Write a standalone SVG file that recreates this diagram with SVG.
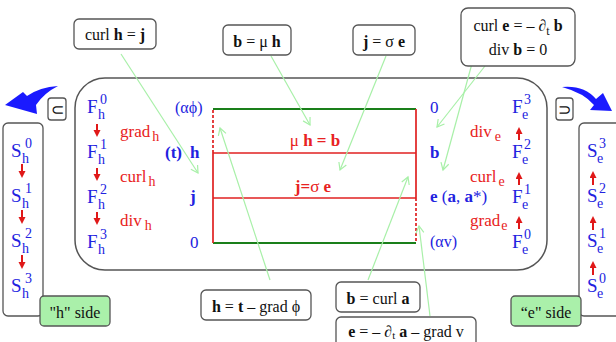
<svg xmlns="http://www.w3.org/2000/svg" width="616" height="342" viewBox="0 0 616 342">
<defs>
<style>
.box{fill:#fff;stroke:#555;stroke-width:1.3}
.gbox{fill:#aaf0aa;stroke:#555;stroke-width:1.3}
.t{font-family:"Liberation Serif","Times New Roman",serif;font-size:16px;fill:#111}
.b{font-weight:bold}
.bl{font-family:"Liberation Serif","Times New Roman",serif;fill:#2222e0}
.rd{font-family:"Liberation Serif","Times New Roman",serif;fill:#e82222}
.F{font-size:19px}
.s{font-size:14px}
.op{font-size:17px}
.conn line{stroke:#a8f0a8;stroke-width:1.2;marker-end:url(#ga)}
.rarr{stroke:#e01818;stroke-width:2;marker-end:url(#ra)}
</style>
<marker id="ga" markerWidth="10" markerHeight="10" refX="8" refY="5" orient="auto" markerUnits="userSpaceOnUse"><path d="M1,1 L8,5 L1,9" fill="none" stroke="#a8f0a8" stroke-width="1.2"/></marker>
<marker id="ra" markerWidth="8" markerHeight="8" refX="1" refY="3.5" orient="auto" markerUnits="userSpaceOnUse"><path d="M0,0 L7,3.5 L0,7 Z" fill="#e01818"/></marker>
</defs>

<!-- main rounded frame -->
<g id="frame">
<rect x="75" y="78" width="472" height="192" rx="30" ry="30" fill="#fff" stroke="#555" stroke-width="1.5"/>
</g>

<!-- table -->
<g id="table">
<line x1="213" y1="109" x2="416" y2="109" stroke="#1a7f1a" stroke-width="2"/>
<line x1="213" y1="243" x2="416" y2="243" stroke="#1a7f1a" stroke-width="2"/>
<line x1="213" y1="153" x2="416" y2="153" stroke="#e02020" stroke-width="1.7"/>
<line x1="213" y1="198" x2="416" y2="198" stroke="#e02020" stroke-width="1.7"/>
<line x1="213" y1="153" x2="213" y2="243" stroke="#e02020" stroke-width="1.7"/>
<line x1="213" y1="110" x2="213" y2="153" stroke="#e02020" stroke-width="1.7" stroke-dasharray="3,2"/>
<line x1="416" y1="109" x2="416" y2="198" stroke="#e02020" stroke-width="1.7"/>
<line x1="416" y1="198" x2="416" y2="242" stroke="#e02020" stroke-width="1.7" stroke-dasharray="3,2"/>
<text class="rd b" x="315" y="146" font-size="17" text-anchor="middle"><tspan font-weight="normal">μ</tspan> h = b</text>
<text class="rd b" x="313" y="192" font-size="17" text-anchor="middle">j=<tspan font-weight="normal">σ</tspan>  e</text>
</g>

<!-- left F column -->
<g id="Fh">
<text class="bl F" x="87" y="113">F</text><text class="bl s" x="98" y="119">h</text><text class="bl s" x="100" y="104">0</text>
<text class="bl F" x="87" y="158">F</text><text class="bl s" x="98" y="164">h</text><text class="bl s" x="100" y="149">1</text>
<text class="bl F" x="87" y="203">F</text><text class="bl s" x="98" y="209">h</text><text class="bl s" x="100" y="194">2</text>
<text class="bl F" x="87" y="248">F</text><text class="bl s" x="98" y="254">h</text><text class="bl s" x="100" y="239">3</text>
<line class="rarr" x1="97" y1="124" x2="97" y2="131"/>
<line class="rarr" x1="97" y1="168" x2="97" y2="175"/>
<line class="rarr" x1="97" y1="212" x2="97" y2="219"/>
<text class="rd op" x="120" y="137">grad<tspan class="s" dx="2" dy="4">h</tspan></text>
<text class="rd op" x="120" y="182">curl<tspan class="s" dx="2" dy="4">h</tspan></text>
<text class="rd op" x="120" y="226">div<tspan class="s" dx="3" dy="4">h</tspan></text>
</g>

<!-- left middle labels -->
<g id="hlabels">
<text class="bl" font-size="16" x="175" y="113">(αϕ)</text>
<text class="bl b" font-size="17" x="165" y="158">(t)</text>
<text class="bl b" font-size="17" x="190" y="158">h</text>
<text class="bl b" font-size="17" x="190" y="202">j</text>
<text class="bl" font-size="17" x="190" y="248">0</text>
</g>

<!-- right middle labels -->
<g id="elabels">
<text class="bl" font-size="17" x="430" y="113">0</text>
<text class="bl b" font-size="17" x="430" y="158">b</text>
<text class="bl" font-size="17" x="430" y="202"><tspan font-weight="bold">e</tspan>  (<tspan font-weight="bold">a</tspan>, <tspan font-weight="bold">a</tspan>*)</text>
<text class="bl" font-size="16" x="430" y="247">(αv)</text>
</g>

<!-- right F column -->
<g id="Fe">
<text class="bl F" x="512" y="113">F</text><text class="bl s" x="522" y="119">e</text><text class="bl s" x="524" y="104">3</text>
<text class="bl F" x="512" y="158">F</text><text class="bl s" x="522" y="164">e</text><text class="bl s" x="524" y="149">2</text>
<text class="bl F" x="512" y="203">F</text><text class="bl s" x="522" y="209">e</text><text class="bl s" x="524" y="194">1</text>
<text class="bl F" x="512" y="248">F</text><text class="bl s" x="522" y="254">e</text><text class="bl s" x="524" y="239">0</text>
<line class="rarr" x1="519" y1="140" x2="519" y2="133"/>
<line class="rarr" x1="519" y1="185" x2="519" y2="178"/>
<line class="rarr" x1="519" y1="229" x2="519" y2="222"/>
<text class="rd op" x="470" y="137">div<tspan class="s" dx="3" dy="4">e</tspan></text>
<text class="rd op" x="470" y="182">curl<tspan class="s" dx="2" dy="4">e</tspan></text>
<text class="rd op" x="470" y="226">grad<tspan class="s" dx="1" dy="4">e</tspan></text>
</g>

<!-- left S column -->
<g id="Sh">
<rect class="box" x="3" y="123" width="40" height="193" rx="5"/>
<text class="bl F" x="11" y="157">S</text><text class="bl s" x="22" y="163">h</text><text class="bl s" x="25" y="148">0</text>
<text class="bl F" x="11" y="202">S</text><text class="bl s" x="22" y="208">h</text><text class="bl s" x="25" y="193">1</text>
<text class="bl F" x="11" y="247">S</text><text class="bl s" x="22" y="253">h</text><text class="bl s" x="25" y="238">2</text>
<text class="bl F" x="11" y="292">S</text><text class="bl s" x="22" y="298">h</text><text class="bl s" x="25" y="283">3</text>
<line class="rarr" x1="22" y1="164" x2="22" y2="172"/>
<line class="rarr" x1="22" y1="210" x2="22" y2="218"/>
<line class="rarr" x1="22" y1="255" x2="22" y2="263"/>
</g>

<!-- right S column -->
<g id="Se">
<rect class="box" x="579" y="123" width="44" height="193" rx="5"/>
<text class="bl F" x="587" y="157">S</text><text class="bl s" x="597" y="163">e</text><text class="bl s" x="599" y="148">3</text>
<text class="bl F" x="587" y="202">S</text><text class="bl s" x="597" y="208">e</text><text class="bl s" x="599" y="193">2</text>
<text class="bl F" x="587" y="247">S</text><text class="bl s" x="597" y="253">e</text><text class="bl s" x="599" y="238">1</text>
<text class="bl F" x="587" y="292">S</text><text class="bl s" x="597" y="298">e</text><text class="bl s" x="599" y="283">0</text>
<line class="rarr" x1="593" y1="185" x2="593" y2="177"/>
<line class="rarr" x1="593" y1="230" x2="593" y2="222"/>
<line class="rarr" x1="593" y1="275" x2="593" y2="267"/>
</g>

<!-- side tags -->
<g id="hside"><rect class="gbox" x="40" y="296" width="70" height="30" rx="4"/><text class="t" x="75" y="318" font-size="17" text-anchor="middle">"h" side</text></g>
<g id="eside"><rect class="gbox" x="511" y="296" width="70" height="30" rx="4"/><text class="t" x="546" y="318" font-size="17" text-anchor="middle">“e" side</text></g>

<!-- subset boxes -->
<g id="subset"><rect class="box" x="48" y="98" width="18" height="22" rx="3"/><text class="t" x="57" y="115" font-size="15" text-anchor="middle">⊂</text></g>
<g id="supset"><rect class="box" x="556" y="98" width="17" height="22" rx="3"/><text class="t" x="564.5" y="115" font-size="15" text-anchor="middle">⊃</text></g>

<!-- blue swoosh arrows -->
<g id="swooshL"><path d="M5,105 L23,92 L27,96 Q40,87 58,86 Q44,93 36,105 L37,114 Z" fill="#1a1aff"/></g>
<g id="swooshR"><path d="M562,87 Q584,85 596,99 L603,93 L612,111 L590,110 L594,105 Q584,93 562,87 Z" fill="#1a1aff"/></g>

<!-- connectors -->
<g id="connectors" class="conn">
<line x1="121" y1="54" x2="198" y2="173"/>
<line x1="271" y1="56" x2="310" y2="125"/>
<line x1="386" y1="56" x2="340" y2="170"/>
<line x1="480" y1="34" x2="443" y2="170"/>
<line x1="485" y1="66" x2="437" y2="127"/>
<line x1="270" y1="280" x2="220" y2="128"/>
<line x1="368" y1="280" x2="408" y2="177"/>
<line x1="430" y1="316" x2="419" y2="226"/>
</g>

<!-- equation boxes -->
<g id="eq1"><rect class="box" x="74" y="19" width="82" height="30" rx="5"/><text class="t" x="115" y="40" font-size="17" text-anchor="middle">curl <tspan class="b">h</tspan> = <tspan class="b">j</tspan></text></g>
<g id="eq2"><rect class="box" x="223" y="25" width="68" height="30" rx="5"/><text class="t" x="257" y="47" font-size="17" text-anchor="middle"><tspan class="b">b</tspan> = μ <tspan class="b">h</tspan></text></g>
<g id="eq3"><rect class="box" x="353" y="25" width="62" height="30" rx="5"/><text class="t" x="384" y="47" font-size="17" text-anchor="middle"><tspan class="b">j</tspan> = σ <tspan class="b">e</tspan></text></g>
<g id="eq4"><rect class="box" x="461" y="8" width="114" height="58" rx="7"/>
<text class="t" x="518" y="31" font-size="17" text-anchor="middle">curl <tspan class="b">e</tspan> = – ∂<tspan font-size="12" dy="4">t</tspan><tspan dy="-4"> </tspan><tspan class="b">b</tspan></text>
<text class="t" x="518" y="55" font-size="17" text-anchor="middle">div <tspan class="b">b</tspan> = 0</text></g>
<g id="eq5"><rect class="box" x="201" y="290" width="110" height="30" rx="5"/><text class="t" x="256" y="312" font-size="17" text-anchor="middle"><tspan class="b">h</tspan> = <tspan class="b">t</tspan> – grad ϕ</text></g>
<g id="eq6"><rect class="box" x="336" y="282" width="84" height="30" rx="5"/><text class="t" x="378" y="304" font-size="17" text-anchor="middle"><tspan class="b">b</tspan> = curl <tspan class="b">a</tspan></text></g>
<g id="eq7"><rect class="box" x="336" y="317" width="140" height="32" rx="5"/><text class="t" x="406" y="337" font-size="17" text-anchor="middle"><tspan class="b">e</tspan> = – ∂<tspan font-size="11" dy="2">t</tspan><tspan dy="-2"> </tspan><tspan class="b">a</tspan> – grad v</text></g>
</svg>
